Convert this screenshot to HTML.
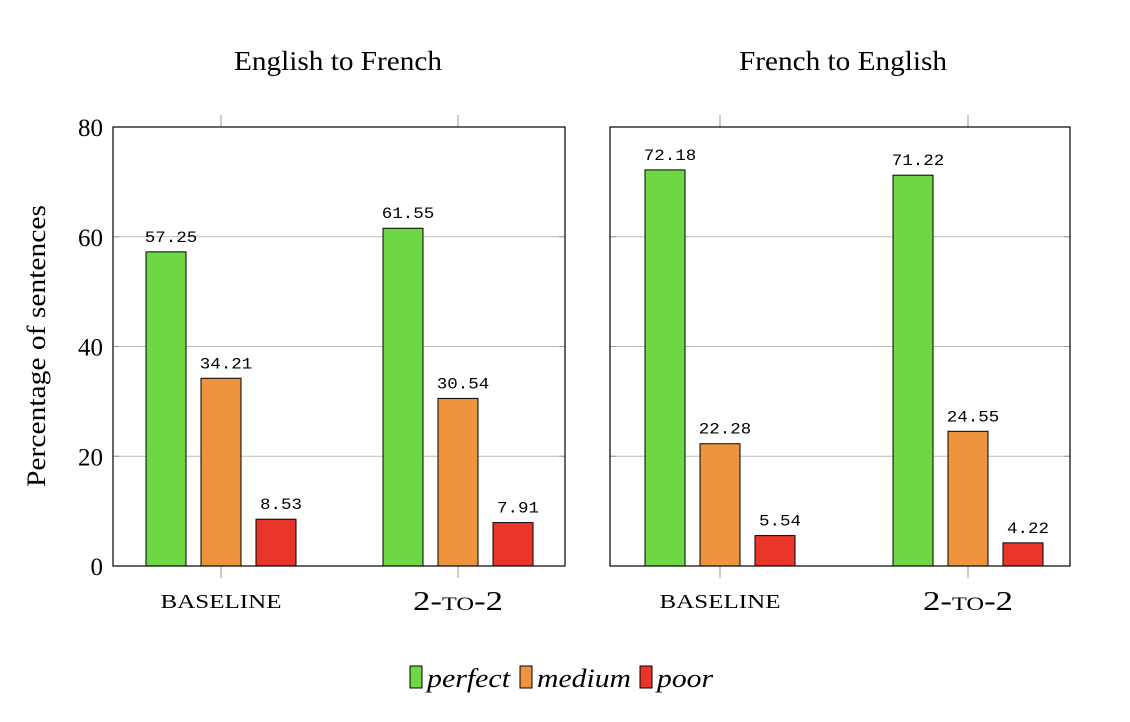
<!DOCTYPE html>
<html><head><meta charset="utf-8"><style>
html,body{margin:0;padding:0;background:#fff;}
svg{display:block;font-family:"Liberation Serif",serif;}
</style></head><body>
<svg id="chart" width="1130" height="722">
<text x="338" y="70" font-size="27" text-anchor="middle" textLength="208" lengthAdjust="spacingAndGlyphs">English to French</text>
<text x="843" y="70" font-size="27" text-anchor="middle" textLength="208" lengthAdjust="spacingAndGlyphs">French to English</text>
<text transform="translate(45,346) rotate(-90)" font-size="26" text-anchor="middle" textLength="282" lengthAdjust="spacingAndGlyphs">Percentage of sentences</text>
<g id="plots"></g>
<g>
<rect x="410" y="666" width="12" height="22" fill="#6dd843" stroke="#000"/>
<text x="427" y="687" font-size="26" font-style="italic" textLength="83" lengthAdjust="spacingAndGlyphs">perfect</text>
<rect x="520" y="666" width="12" height="22" fill="#ef943e" stroke="#000"/>
<text x="537" y="687" font-size="26" font-style="italic" textLength="94" lengthAdjust="spacingAndGlyphs">medium</text>
<rect x="640" y="666" width="12" height="22" fill="#e9352a" stroke="#000"/>
<text x="657" y="687" font-size="26" font-style="italic" textLength="56" lengthAdjust="spacingAndGlyphs">poor</text>
</g>
</svg>
<script>
const categories = ["baseline", "2-to-2"];
const series = ["perfect", "medium", "poor"];
const enFr = [[57.25, 34.21, 8.53], [61.55, 30.54, 7.91]];
const frEn = [[72.18, 22.28, 5.54], [71.22, 24.55, 4.22]];
const yTicks = [0, 20, 40, 60, 80];
const colors = ["#6dd843", "#ef943e", "#e9352a"];

const NS = "http://www.w3.org/2000/svg";
const g = document.getElementById("plots");
const y0 = 566, y1 = 127, yMax = 80;
function yScale(v){ return y0 - (v / yMax) * (y0 - y1); }
function mk(tag, attrs, parent){
  const e = document.createElementNS(NS, tag);
  for (const k in attrs) e.setAttribute(k, attrs[k]);
  parent.appendChild(e); return e;
}
const panels = [
  {name:"left", x0:113, x1:565, centers:[221, 458], data:enFr, yLabels:true},
  {name:"right", x0:610, x1:1070, centers:[720, 968], data:frEn, yLabels:false}
];
panels.forEach(p => {
  yTicks.forEach(t => {
    const y = yScale(t);
    if (t > 0 && t < yMax) {
      const l = mk("line", {x1:p.x0, x2:p.x1, y1:y, y2:y, stroke:"#bbb", "stroke-width":1}, g);
      
      
    }
    mk("line", {x1:p.x0, x2:p.x0+6, y1:y, y2:y, stroke:"#999"}, g);
    mk("line", {x1:p.x1-6, x2:p.x1, y1:y, y2:y, stroke:"#999"}, g);
    if (p.yLabels) {
      const tx = mk("text", {x:p.x0-10, y:y+9, "font-size":25, "text-anchor":"end"}, g);
      tx.textContent = t;
      
      
    }
  });
  p.centers.forEach((c, ci) => {
    mk("line", {x1:c, x2:c, y1:y1-12, y2:y1+0, stroke:"#999"}, g);
    mk("line", {x1:c, x2:c, y1:y0, y2:y0+12, stroke:"#999"}, g);
    let lab;
    if (ci === 0) {
      lab = mk("text", {x:c, y:608, "font-size":20, "text-anchor":"middle", textLength:121, lengthAdjust:"spacingAndGlyphs"}, g);
      lab.textContent = categories[ci].toUpperCase();
    } else {
      lab = mk("text", {x:c, y:610, "font-size":27, "text-anchor":"middle", "font-variant":"small-caps", textLength:90, lengthAdjust:"spacingAndGlyphs"}, g);
      lab.textContent = categories[ci];
    }
    
    
    series.forEach((s, si) => {
      const v = p.data[ci][si];
      const bx = c - 75 + si * 55;
      const r = mk("rect", {x:bx, y:yScale(v), width:40, height:y0 - yScale(v), fill:colors[si], stroke:"#000", "stroke-width":1}, g);
      
      
      const txt = v.toFixed(2);
      const vt = mk("text", {x:bx+25, y:yScale(v)-10, "font-size":16, "text-anchor":"middle", "font-family":"Liberation Mono, monospace", textLength: txt.length * 10.5, lengthAdjust:"spacingAndGlyphs"}, g);
      vt.textContent = txt;
      
      
    });
  });
  const fr = mk("rect", {x:p.x0, y:y1, width:p.x1-p.x0, height:y0-y1, fill:"none", stroke:"#000", "stroke-width":1.2}, g);
  
  
});
</script>
</body></html>
